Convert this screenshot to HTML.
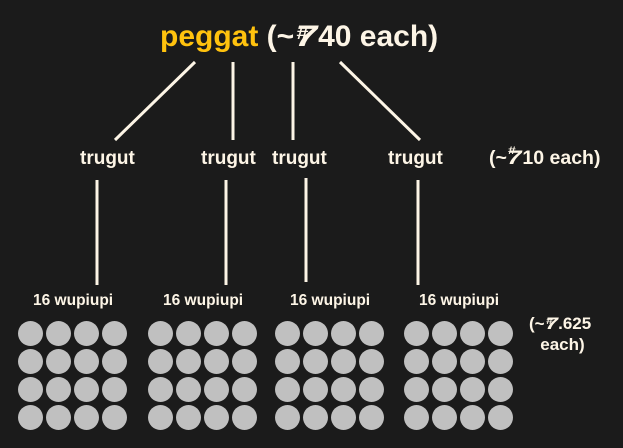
<!DOCTYPE html>
<html><head><style>
body{margin:0;width:623px;height:448px;background:#1b1b1b;overflow:hidden;position:relative;font-family:"Liberation Sans",sans-serif;font-weight:bold;color:#fdf5e6}
.t{position:absolute;white-space:nowrap}
.c{position:absolute;width:25px;height:25px;border-radius:50%;background:#c0c0c0}
.sym{position:relative;display:inline-block;transform:scaleX(1.3);margin:0 0.12em;font-style:italic}
.sym i{position:absolute;font-style:normal;font-size:0.55em;left:0.05em;top:-0.2em}
</style></head><body>
<svg width="623" height="448" style="position:absolute;left:0;top:0">
<g stroke="#fdf5e6" stroke-width="3">
<line x1="195" y1="62" x2="115" y2="140"/>
<line x1="233" y1="62" x2="233" y2="140"/>
<line x1="293" y1="62" x2="293" y2="140"/>
<line x1="340" y1="62" x2="420" y2="140"/>
<line x1="97" y1="180" x2="97" y2="285"/>
<line x1="226" y1="180" x2="226" y2="285"/>
<line x1="306" y1="178" x2="306" y2="282"/>
<line x1="418" y1="180" x2="418" y2="285"/>
</g></svg>
<div class="t" style="left:160px;top:20px;font-size:30px;line-height:34px"><span style="color:#ffc20e">peggat</span> (~<span class="sym">7<i>#</i></span>40 each)</div>
<div class="t" style="left:80px;top:148px;font-size:19px">trugut</div>
<div class="t" style="left:201px;top:148px;font-size:19px">trugut</div>
<div class="t" style="left:272px;top:148px;font-size:19px">trugut</div>
<div class="t" style="left:388px;top:148px;font-size:19px">trugut</div>
<div class="t" style="left:489px;top:147px;font-size:19.5px">(~<span class="sym">7<i>#</i></span>10 each)</div>
<div class="t" style="left:33px;top:292px;font-size:15.5px">16 wupiupi</div>
<div class="t" style="left:163px;top:292px;font-size:15.5px">16 wupiupi</div>
<div class="t" style="left:290px;top:292px;font-size:15.5px">16 wupiupi</div>
<div class="t" style="left:419px;top:292px;font-size:15.5px">16 wupiupi</div>
<div class="t" style="left:529px;top:313px;font-size:17px;line-height:21px;text-align:center">(~<span class="sym">7<i>#</i></span>.625<br>&nbsp;each)</div>
<div id="g"></div>
<script>
var g=document.getElementById('g'),xs=[18,148,275,404],h='';
xs.forEach(function(x){for(var r=0;r<4;r++)for(var c=0;c<4;c++)h+='<div class="c" style="left:'+(x+c*28)+'px;top:'+(321+r*28)+'px"></div>';});
g.innerHTML=h;
</script>
</body></html>
